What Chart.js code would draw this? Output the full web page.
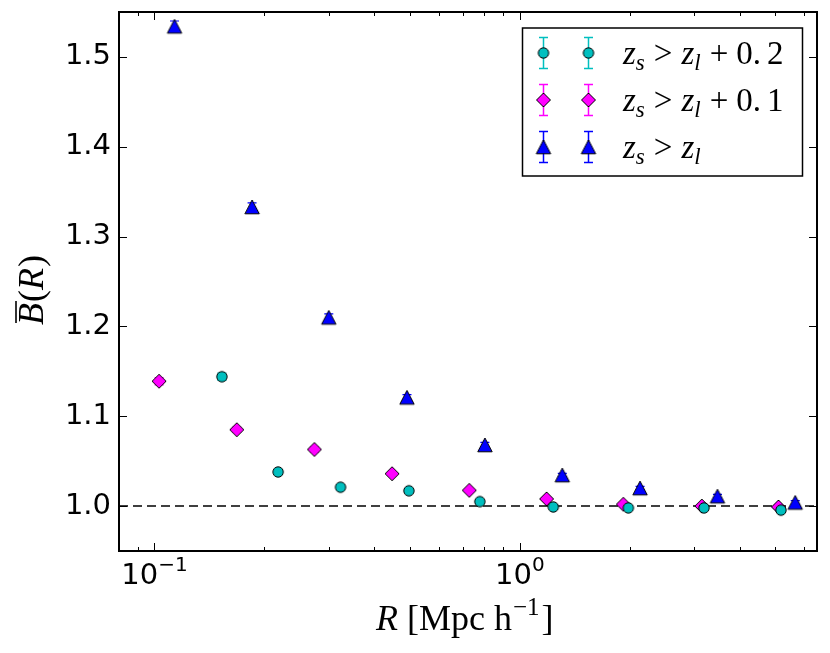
<!DOCTYPE html>
<html>
<head>
<meta charset="utf-8">
<script src="https://cdn.jsdelivr.net/npm/chart.js@4"></script>
<style>
html, body { margin: 0; padding: 0; background: #fff; }
#wrap { width: 830px; height: 653px; }
</style>
</head>
<body>
<div id="wrap"><canvas id="biasChart" width="830" height="653"></canvas></div>
<script>
// z_s > z_l + 0.2
var cyanR = [0.153, 0.218, 0.323, 0.497, 0.777, 1.234, 1.98, 3.19, 5.18];
var cyanB = [1.144, 1.038, 1.021, 1.017, 1.005, 0.999, 0.998, 0.998, 0.9955];
var cyanErr = [0.004, 0.003, 0.003, 0.002, 0.002, 0.002, 0.001, 0.001, 0.001];
// z_s > z_l + 0.1
var magR = [0.103, 0.168, 0.274, 0.447, 0.727, 1.183, 1.919, 3.146, 5.10];
var magB = [1.139, 1.085, 1.063, 1.036, 1.0175, 1.008, 1.002, 1.000, 0.999];
var magErr = [0.004, 0.003, 0.003, 0.002, 0.002, 0.002, 0.001, 0.001, 0.001];
// z_s > z_l
var blueR = [0.1135, 0.185, 0.300, 0.491, 0.802, 1.306, 2.132, 3.472, 5.667];
var blueB = [1.534, 1.333, 1.210, 1.121, 1.068, 1.0345, 1.020, 1.011, 1.004];
var blueErr = [0.006, 0.0045, 0.004, 0.003, 0.003, 0.002, 0.002, 0.002, 0.002];

var xMin = 0.08, xMax = 6.5;
var yMin = 0.95, yMax = 1.55;
var xMajorTicks = [0.1, 1];
var xMajorExponents = ['\u22121', '0'];
var xMinorTicks = [0.08, 0.09, 0.2, 0.3, 0.4, 0.5, 0.6, 0.7, 0.8, 0.9, 2, 3, 4, 5, 6];
var yTicks = [1.0, 1.1, 1.2, 1.3, 1.4, 1.5];
var refLineY = 1.0;

var CYAN = '#00BFBF', MAGENTA = '#FF00FF', BLUE = '#0000FF';

function makeMarker(shape, fill) {
    var c = document.createElement('canvas');
    c.width = 20; c.height = 20;
    var g = c.getContext('2d');
    g.fillStyle = fill;
    g.strokeStyle = '#000';
    g.lineWidth = 1;
    g.beginPath();
    if (shape === 'circle') {
        g.arc(10, 10, 5.2, 0, Math.PI * 2);
    } else if (shape === 'diamond') {
        g.moveTo(10, 3); g.lineTo(17, 10); g.lineTo(10, 17); g.lineTo(3, 10); g.closePath();
    } else {
        g.moveTo(10, 3); g.lineTo(17.2, 16.8); g.lineTo(2.8, 16.8); g.closePath();
    }
    g.fill();
    g.stroke();
    return c;
}

var circleMark = makeMarker('circle', CYAN);
var diamondMark = makeMarker('diamond', MAGENTA);
var triangleMark = makeMarker('triangle', BLUE);

function toPoints(xs, ys) {
    return xs.map(function(x, i) { return { x: x, y: ys[i] }; });
}

var series = [
    { xs: cyanR, ys: cyanB, err: cyanErr, color: CYAN, mark: circleMark, label: '0.2' },
    { xs: magR, ys: magB, err: magErr, color: MAGENTA, mark: diamondMark, label: '0.1' },
    { xs: blueR, ys: blueB, err: blueErr, color: BLUE, mark: triangleMark, label: null }
];

function measurePieces(ctx, pieces) {
    var w = 0;
    pieces.forEach(function(p) {
        ctx.font = p.font;
        w += (p.dx || 0) + ctx.measureText(p.text).width + (p.gap || 0);
    });
    return w;
}

function drawPieces(ctx, x, y, pieces) {
    pieces.forEach(function(p) {
        ctx.font = p.font;
        ctx.fillText(p.text, x + (p.dx || 0), y + (p.dy || 0));
        x += (p.dx || 0) + ctx.measureText(p.text).width + (p.gap || 0);
    });
    return x;
}

function noScalePadding(scale) {
    scale.paddingTop = 0;
    scale.paddingBottom = 0;
    scale.paddingLeft = 0;
    scale.paddingRight = 0;
}

var SERIF = '"Liberation Serif", "DejaVu Serif", serif';
var SANS = '"DejaVu Sans", sans-serif';

var framePlugin = {
    id: 'frame',
    beforeDatasetsDraw: function(chart) {
        var ctx = chart.ctx, xs = chart.scales.x, ys = chart.scales.y;
        ctx.save();
        ctx.lineWidth = 1.2;
        series.forEach(function(s) {
            ctx.strokeStyle = s.color;
            s.xs.forEach(function(r, i) {
                var px = xs.getPixelForValue(r);
                var top = ys.getPixelForValue(s.ys[i] + s.err[i]);
                var bot = ys.getPixelForValue(s.ys[i] - s.err[i]);
                ctx.beginPath();
                ctx.moveTo(px, top); ctx.lineTo(px, bot);
                ctx.moveTo(px - 4.5, top); ctx.lineTo(px + 4.5, top);
                ctx.moveTo(px - 4.5, bot); ctx.lineTo(px + 4.5, bot);
                ctx.stroke();
            });
        });
        ctx.restore();
    },
    afterDraw: function(chart) {
        var ctx = chart.ctx, a = chart.chartArea;
        var xs = chart.scales.x, ys = chart.scales.y;
        ctx.save();
        ctx.strokeStyle = '#000';
        ctx.fillStyle = '#000';

        // ticks pointing inward, mirrored on all sides
        ctx.lineWidth = 1;
        ctx.beginPath();
        xMajorTicks.forEach(function(v) {
            var px = Math.round(xs.getPixelForValue(v)) + 0.5;
            ctx.moveTo(px, a.bottom); ctx.lineTo(px, a.bottom - 8);
            ctx.moveTo(px, a.top); ctx.lineTo(px, a.top + 8);
        });
        xMinorTicks.forEach(function(v) {
            var px = Math.round(xs.getPixelForValue(v)) + 0.5;
            ctx.moveTo(px, a.bottom); ctx.lineTo(px, a.bottom - 4);
            ctx.moveTo(px, a.top); ctx.lineTo(px, a.top + 4);
        });
        yTicks.forEach(function(v) {
            var py = Math.round(ys.getPixelForValue(v)) + 0.5;
            ctx.moveTo(a.left, py); ctx.lineTo(a.left + 8, py);
            ctx.moveTo(a.right, py); ctx.lineTo(a.right - 8, py);
        });
        ctx.stroke();

        // frame
        ctx.lineWidth = 2;
        ctx.strokeRect(a.left, a.top, a.right - a.left, a.bottom - a.top);

        // x tick labels 10^n with real superscripts
        ctx.textBaseline = 'alphabetic';
        xMajorTicks.forEach(function(v, i) {
            var pieces = [
                { text: '10', font: '29px ' + SANS },
                { text: xMajorExponents[i], font: '20px ' + SANS, dy: -13 }
            ];
            var w = measurePieces(ctx, pieces);
            drawPieces(ctx, xs.getPixelForValue(v) - w / 2, 584, pieces);
        });

        // y title: B-bar(R)
        ctx.save();
        ctx.translate(43, 325);
        ctx.rotate(-Math.PI / 2);
        ctx.font = 'italic 36px ' + SERIF;
        var bw = ctx.measureText('B').width;
        drawPieces(ctx, 0, 0, [
            { text: 'B', font: 'italic 36px ' + SERIF },
            { text: '(', font: '36px ' + SERIF, dx: 1 },
            { text: 'R', font: 'italic 36px ' + SERIF },
            { text: ')', font: '36px ' + SERIF, dx: 1 }
        ]);
        ctx.lineWidth = 1.6;
        ctx.beginPath();
        ctx.moveTo(2, -27); ctx.lineTo(bw + 2, -27);
        ctx.stroke();
        ctx.restore();

        // x title: R [Mpc h^-1]
        drawPieces(ctx, 376, 630, [
            { text: 'R', font: 'italic 36px ' + SERIF, gap: 9 },
            { text: '[Mpc h', font: '36px ' + SERIF },
            { text: '\u22121', font: '25px ' + SERIF, dy: -15, dx: 1 },
            { text: ']', font: '36px ' + SERIF, dx: 2 }
        ]);

        // legend
        var lx = 522.5, ly = 28, lw = 280, lh = 148;
        ctx.fillStyle = '#fff';
        ctx.fillRect(lx, ly, lw, lh);
        ctx.lineWidth = 1.5;
        ctx.strokeStyle = '#000';
        ctx.strokeRect(lx, ly, lw, lh);
        var rows = [53, 100, 147];
        series.forEach(function(s, i) {
            var ry = rows[i];
            [543.5, 588.5].forEach(function(mx) {
                ctx.strokeStyle = s.color;
                ctx.lineWidth = 1.5;
                ctx.beginPath();
                ctx.moveTo(mx, ry - 15.5); ctx.lineTo(mx, ry + 15.5);
                ctx.moveTo(mx - 4.5, ry - 15.5); ctx.lineTo(mx + 4.5, ry - 15.5);
                ctx.moveTo(mx - 4.5, ry + 15.5); ctx.lineTo(mx + 4.5, ry + 15.5);
                ctx.stroke();
                ctx.drawImage(s.mark, mx - s.mark.width / 2, ry - s.mark.height / 2);
            });
            ctx.fillStyle = '#000';
            var pieces = [
                { text: 'z', font: 'italic 33px ' + SERIF },
                { text: 's', font: 'italic 23px ' + SERIF, dy: 6, gap: 9 },
                { text: '>', font: '33px ' + SERIF, gap: 9 },
                { text: 'z', font: 'italic 33px ' + SERIF },
                { text: 'l', font: 'italic 23px ' + SERIF, dy: 6 }
            ];
            if (s.label) {
                var parts = s.label.split('.');
                pieces.push({ text: '+', font: '33px ' + SERIF, dx: 9, gap: 8 });
                pieces.push({ text: parts[0] + '.', font: '33px ' + SERIF, gap: 6 });
                pieces.push({ text: parts[1], font: '33px ' + SERIF });
            }
            drawPieces(ctx, 623, ry + 11, pieces);
        });
        ctx.restore();
    }
};

var datasets = series.map(function(s) {
    return {
        type: 'scatter',
        data: toPoints(s.xs, s.ys),
        pointStyle: s.mark,
        pointRadius: 7,
        pointHoverRadius: 7,
        showLine: false
    };
});
datasets.push({
    type: 'line',
    data: toPoints([xMin, xMax], [refLineY, refLineY]),
    borderColor: '#000',
    borderWidth: 1.5,
    borderDash: [9, 5],
    pointRadius: 0,
    fill: false
});

var ctx = document.getElementById('biasChart').getContext('2d');
var biasChart = new Chart(ctx, {
    type: 'scatter',
    data: { datasets: datasets },
    plugins: [framePlugin],
    options: {
        responsive: false,
        animation: false,
        layout: { padding: { top: 12, right: 13, left: 0, bottom: 0 } },
        plugins: {
            legend: { display: false },
            tooltip: { enabled: false }
        },
        scales: {
            x: {
                type: 'logarithmic',
                min: xMin,
                max: xMax,
                grid: { display: false, drawTicks: false },
                border: { display: false },
                afterBuildTicks: function(scale) {
                    scale.ticks = xMajorTicks.map(function(v) { return { value: v }; });
                },
                afterFit: function(scale) { scale.height = 102; noScalePadding(scale); },
                ticks: { display: false }
            },
            y: {
                min: yMin,
                max: yMax,
                grid: { display: false, drawTicks: false },
                border: { display: false },
                afterBuildTicks: function(scale) {
                    scale.ticks = yTicks.map(function(v) { return { value: v }; });
                },
                afterFit: function(scale) { scale.width = 119; noScalePadding(scale); },
                ticks: {
                    padding: 8,
                    color: '#000',
                    font: { family: 'DejaVu Sans', size: 29 },
                    callback: function(value) { return value.toFixed(1); }
                }
            }
        }
    }
});
</script>
</body>
</html>
